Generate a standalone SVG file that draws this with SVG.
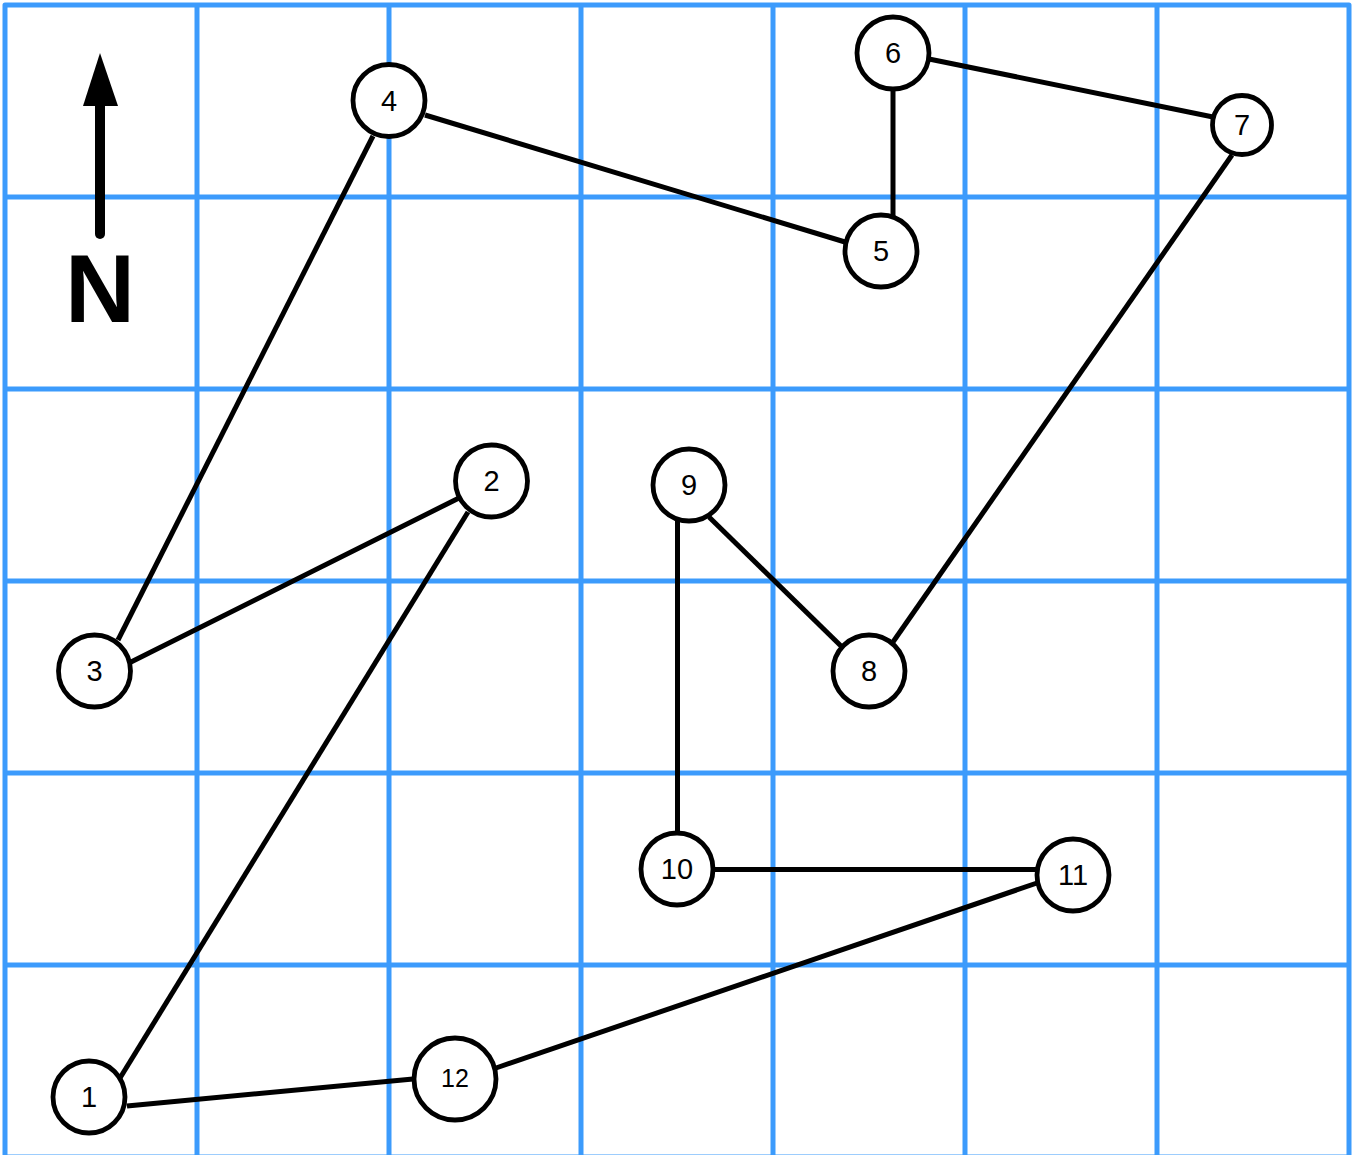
<svg xmlns="http://www.w3.org/2000/svg" width="1355" height="1155" viewBox="0 0 1355 1155">
<style>
.grid{stroke:#3c9bfc;stroke-width:5;fill:none;stroke-linejoin:round}
.edge{stroke:#000;stroke-width:5;fill:none}
.node circle{fill:#fff;stroke:#000;stroke-width:4.8}
.node text{font-family:"Liberation Sans",Arial,sans-serif;font-size:29px;text-anchor:middle;fill:#000}
</style>
<rect width="1355" height="1155" fill="#fff"/>
<g id="grid">
<path class="grid" d="M5,1160 V5 H1349 V1160"/>
<path class="grid" d="M197,5 V1160 M389,5 V1160 M581,5 V1160 M773,5 V1160 M965,5 V1160 M1157,5 V1160"/>
<path class="grid" d="M5,197 H1349 M5,389 H1349 M5,581 H1349 M5,773 H1349 M5,965 H1349 M5,1157 H1349"/>
</g>
<g id="north">
<line x1="100" y1="234" x2="100" y2="100" stroke="#000" stroke-width="10" stroke-linecap="round"/>
<polygon points="100,53 83,106 118,106" fill="#000"/>
<text x="100" y="322" font-family="Liberation Sans,Arial,sans-serif" font-weight="bold" font-size="97" text-anchor="middle" fill="#000">N</text>
</g>
<g id="connectors">
<line class="edge" x1="120" y1="1078" x2="468" y2="512"/>
<line class="edge" x1="127" y1="1106" x2="413" y2="1079"/>
<line class="edge" x1="131" y1="662" x2="459" y2="498"/>
<line class="edge" x1="118" y1="640" x2="373" y2="136"/>
<line class="edge" x1="425" y1="115" x2="845" y2="242"/>
<line class="edge" x1="893" y1="88" x2="893" y2="216"/>
<line class="edge" x1="929" y1="59" x2="1213" y2="117"/>
<line class="edge" x1="1232" y1="155" x2="893" y2="642"/>
<line class="edge" x1="709" y1="517" x2="841" y2="646"/>
<line class="edge" x1="677.5" y1="521" x2="677.5" y2="832"/>
<line class="edge" x1="714" y1="869.5" x2="1037" y2="869.5"/>
<line class="edge" x1="1037" y1="883" x2="496" y2="1068"/>
</g>
<g id="node1" class="node"><circle cx="89" cy="1097" r="36"/><text x="89" y="1107">1</text></g>
<g id="node2" class="node"><circle cx="491.5" cy="481" r="36"/><text x="491.5" y="491">2</text></g>
<g id="node3" class="node"><circle cx="94.5" cy="671" r="36"/><text x="94.5" y="681">3</text></g>
<g id="node4" class="node"><circle cx="389" cy="100.5" r="36"/><text x="389" y="110.5">4</text></g>
<g id="node5" class="node"><circle cx="881" cy="251" r="36"/><text x="881" y="261">5</text></g>
<g id="node6" class="node"><circle cx="893" cy="53" r="36"/><text x="893" y="63">6</text></g>
<g id="node7" class="node"><circle cx="1242" cy="125" r="29.5"/><text x="1242" y="134.5">7</text></g>
<g id="node8" class="node"><circle cx="869" cy="671" r="36"/><text x="869" y="681">8</text></g>
<g id="node9" class="node"><circle cx="689" cy="485" r="36"/><text x="689" y="495">9</text></g>
<g id="node10" class="node"><circle cx="677" cy="869" r="36"/><text x="677" y="879">10</text></g>
<g id="node11" class="node"><circle cx="1073" cy="875" r="36"/><text x="1073" y="885">11</text></g>
<g id="node12" class="node"><circle cx="455" cy="1079" r="41"/><text x="455" y="1087" style="font-size:25px">12</text></g>
</svg>
